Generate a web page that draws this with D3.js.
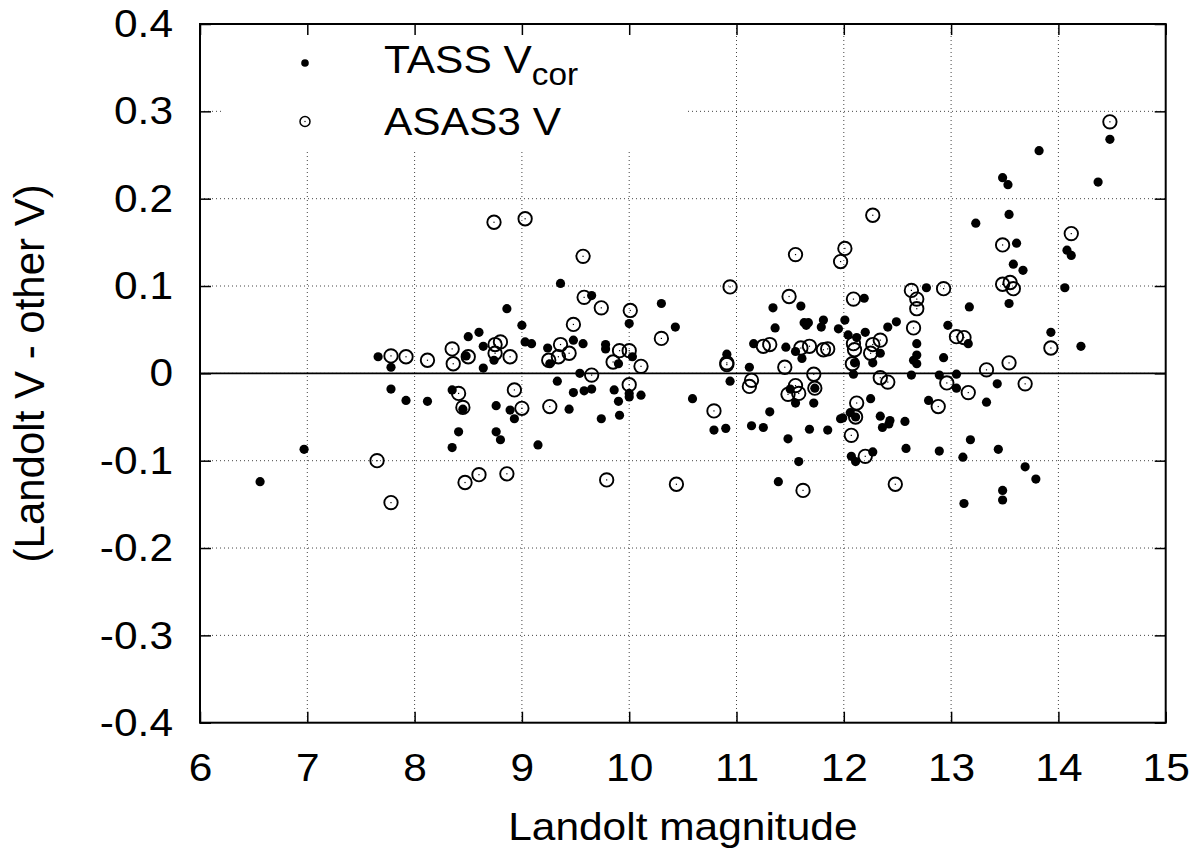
<!DOCTYPE html>
<html>
<head>
<meta charset="utf-8">
<script src="https://cdn.jsdelivr.net/npm/d3@7"></script>
<style>
  html, body { margin: 0; padding: 0; background: #fff; }
  svg { display: block; }
  text { font-family: "Liberation Sans", Arial, Helvetica, sans-serif; fill: #000; }
</style>
</head>
<body>
<svg id="chart" width="1204" height="854"></svg>
<script>
// ---- data ----
const xTicks = [6, 7, 8, 9, 10, 11, 12, 13, 14, 15];
const yTicks = [-0.4, -0.3, -0.2, -0.1, 0, 0.1, 0.2, 0.3, 0.4];
const yTickLabels = ["-0.4", "-0.3", "-0.2", "-0.1", "0", "0.1", "0.2", "0.3", "0.4"];
const seriesNames = ["TASS V", "ASAS3 V"];

// TASS V_cor : [Landolt magnitude, Landolt V - TASS V]
const tassX = [6.56,6.97,7.66,7.78,7.78,7.92,8.12,8.35,8.48,8.64,8.64,8.74,8.76,8.89,8.93,9.03,8.45,8.41,8.35,8.76,
  8.80,8.86,9.00,8.50,8.60,9.09,9.36,9.65,10.00,10.30,10.43,11.34,11.60,11.36,11.63,11.67,11.65,11.81,11.79,11.95,
  9.24,9.48,9.57,9.78,9.26,9.78,10.03,9.90,9.54,9.33,9.44,9.48,9.58,9.65,9.86,9.90,9.91,9.74,10.00,10.00,
  10.11,9.15,10.59,10.79,10.90,10.94,10.91,11.12,11.14,11.25,11.31,11.39,11.48,11.58,11.50,11.55,11.73,11.72,11.68,11.85,
  11.97,11.16,11.46,11.55,11.61,14.48,13.82,13.48,13.53,14.37,13.54,13.23,14.08,14.12,13.61,13.58,13.67,13.54,14.06,13.17,
  12.77,12.19,12.01,12.04,12.12,12.20,12.41,12.49,12.97,13.93,14.21,12.68,13.16,12.10,12.34,12.27,12.68,12.65,12.68,12.93,
  12.09,12.63,12.89,13.05,13.05,13.43,13.33,12.25,12.79,12.06,11.99,12.11,12.34,12.43,12.42,12.36,12.57,12.58,12.89,13.18,
  13.44,13.11,12.07,12.11,12.27,13.69,13.79,13.48,13.48,13.12];
const tassY = [-0.124,-0.087,0.019,0.007,-0.018,-0.031,-0.032,-0.019,0.020,0.031,0.006,0.015,-0.037,-0.042,-0.052,0.036,-0.041,-0.067,-0.085,-0.067,
  -0.076,0.074,0.055,0.042,0.047,0.034,0.103,0.089,0.057,0.080,0.053,0.075,0.077,0.052,0.058,0.058,0.055,0.061,0.053,0.051,
  0.029,0.038,0.034,0.033,0.011,0.028,0.019,0.011,0.000,-0.009,-0.041,-0.022,-0.020,-0.018,-0.019,-0.032,-0.048,-0.052,-0.023,-0.027,
  -0.025,-0.082,-0.029,-0.065,-0.063,-0.009,0.022,0.007,-0.060,-0.062,-0.044,-0.124,-0.075,-0.101,-0.018,-0.034,-0.017,-0.034,-0.064,-0.065,
  -0.052,0.034,0.030,0.025,0.017,0.268,0.255,0.224,0.216,0.219,0.182,0.172,0.141,0.135,0.149,0.125,0.118,0.080,0.098,0.076,
  0.098,0.086,0.061,0.044,0.041,0.047,0.053,0.059,0.055,0.047,0.031,0.034,0.034,0.012,0.023,0.012,0.021,0.015,0.011,0.018,
  -0.001,-0.002,-0.002,-0.001,-0.017,-0.012,-0.033,-0.029,-0.031,-0.045,-0.051,-0.050,-0.049,-0.054,-0.058,-0.062,-0.055,-0.086,-0.089,-0.076,
  -0.087,-0.096,-0.095,-0.101,-0.090,-0.107,-0.121,-0.134,-0.145,-0.149];

// ASAS3 V : [Landolt magnitude, Landolt V - ASAS3 V]
const asasX = [7.65,7.78,7.78,7.92,8.12,8.35,8.36,8.50,8.75,8.80,8.75,8.89,8.41,8.45,8.93,9.00,8.47,8.60,8.86,8.74,
  9.03,9.57,9.58,9.74,10.01,9.48,10.30,10.94,11.55,11.49,9.36,9.25,9.34,9.44,9.91,10.00,9.85,10.11,9.65,10.00,
  9.26,9.79,10.44,10.79,10.91,10.91,11.14,11.12,11.62,11.45,11.72,11.55,11.48,11.58,11.73,11.25,11.31,11.60,11.68,11.81,
  11.85,12.01,11.97,14.48,12.27,14.12,13.48,13.48,13.55,13.58,12.93,12.63,12.68,12.68,12.09,12.65,13.05,13.12,13.93,12.09,
  12.27,12.34,12.10,12.25,12.08,13.54,13.33,12.34,12.41,12.96,13.16,13.69,12.12,12.88,12.11,12.07,12.20,12.48];
const asasY = [-0.100,-0.148,0.020,0.019,0.015,0.028,0.011,0.019,0.033,0.036,0.023,0.019,-0.023,-0.039,-0.019,-0.040,-0.125,-0.116,-0.115,0.173,
  0.177,0.134,0.087,0.075,0.072,0.056,0.040,0.099,0.136,0.088,0.033,0.015,0.019,0.023,0.026,0.026,0.013,0.008,-0.002,-0.013,
  -0.038,-0.122,-0.127,-0.043,0.012,0.010,-0.008,-0.015,-0.134,0.007,-0.001,-0.014,-0.024,-0.023,-0.017,0.031,0.033,0.029,0.031,0.027,
  0.028,0.143,0.128,0.288,0.181,0.160,0.147,0.102,0.104,0.097,0.097,0.095,0.085,0.074,0.085,0.052,0.042,0.041,0.029,0.034,
  0.033,0.038,0.027,0.023,0.011,0.012,0.004,-0.005,-0.010,-0.011,-0.022,-0.012,-0.034,-0.038,-0.050,-0.071,-0.095,-0.127];

// ---- layout ----
const svg = d3.select("#chart");
const L = 200, R = 1165.7, T = 24, B = 722.7;
const x = d3.scaleLinear().domain([6, 15]).range([L, R]);
const y = d3.scaleLinear().domain([-0.4, 0.4]).range([B, T]);
const FS = 39.5;       // glyph height matching
const SX = 1.075;      // horizontal widening of glyphs seen in the reference

function widen(sel) {
  sel.each(function () {
    const t = d3.select(this);
    const ax0 = +(t.attr("x") || 0);
    t.attr("transform", `translate(${ax0},0) scale(${SX},1) translate(${-ax0},0)`);
  });
}

// grid
const grid = svg.append("g");
grid.selectAll("line.gx").data(xTicks.slice(1, -1)).enter().append("line")
  .attr("x1", d => x(d)).attr("x2", d => x(d)).attr("y1", T).attr("y2", B)
  .attr("stroke", "#444").attr("stroke-width", 1).attr("stroke-dasharray", "1,3");
grid.selectAll("line.gy").data(yTicks.slice(1, -1)).enter().append("line")
  .attr("x1", L).attr("x2", R).attr("y1", d => y(d)).attr("y2", d => y(d))
  .attr("stroke", "#444").attr("stroke-width", 1).attr("stroke-dasharray", "1,3");

// legend background (opaque)
svg.append("rect").attr("x", 222).attr("y", T + 1).attr("width", 686 - 222).attr("height", 152 - T - 1)
  .attr("fill", "#fff");

// zero line
svg.append("line").attr("x1", L).attr("x2", R).attr("y1", y(0)).attr("y2", y(0))
  .attr("stroke", "#000").attr("stroke-width", 1.6);

// axes
const tickLen = 11;
const ax = svg.append("g").attr("transform", `translate(0,${B})`)
  .call(d3.axisBottom(x).tickValues(xTicks).tickSizeInner(-tickLen).tickSizeOuter(0).tickPadding(tickLen + 19).tickFormat(d3.format("d")));
const axTop = svg.append("g").attr("transform", `translate(0,${T})`)
  .call(d3.axisTop(x).tickValues(xTicks).tickSizeInner(-tickLen).tickSizeOuter(0).tickFormat(""));
const ay = svg.append("g").attr("transform", `translate(${L},0)`)
  .call(d3.axisLeft(y).tickValues(yTicks).tickSizeInner(-tickLen).tickSizeOuter(0).tickPadding(tickLen + 16)
    .tickFormat((d, i) => yTickLabels[i]));
const ayR = svg.append("g").attr("transform", `translate(${R},0)`)
  .call(d3.axisRight(y).tickValues(yTicks).tickSizeInner(-tickLen).tickSizeOuter(0).tickFormat(""));
[ax, axTop, ay, ayR].forEach(g => {
  g.select(".domain").remove();
  g.selectAll(".tick line").attr("stroke", "#000").attr("stroke-width", 1.5);
  g.selectAll(".tick text").attr("font-size", FS).attr("font-family", "'Liberation Sans', Arial, sans-serif").attr("fill", "#000");
});
ax.selectAll(".tick text").attr("dy", "0.71em");
widen(ax.selectAll(".tick text"));
widen(ay.selectAll(".tick text"));

// frame
svg.append("rect").attr("x", L).attr("y", T).attr("width", R - L).attr("height", B - T)
  .attr("fill", "none").attr("stroke", "#000").attr("stroke-width", 2);

// axis titles
const xt = svg.append("text").attr("x", (L + R) / 2).attr("y", 840).attr("text-anchor", "middle")
  .attr("font-size", FS).text("Landolt magnitude");
widen(xt);
svg.append("text").attr("transform", `translate(44,${(T + B) / 2}) rotate(-90)`).attr("text-anchor", "middle")
  .attr("font-size", 42).text("(Landolt V - other V)");

// points
const tass = tassX.map((v, i) => ({x: v, y: tassY[i]}));
const asas = asasX.map((v, i) => ({x: v, y: asasY[i]}));

const pts = svg.append("g");
pts.selectAll("circle.t").data(tass).enter().append("circle")
  .attr("cx", d => x(d.x)).attr("cy", d => y(d.y)).attr("r", 4.6).attr("fill", "#000");
const ag = pts.selectAll("g.a").data(asas).enter().append("g");
ag.append("circle").attr("cx", d => x(d.x)).attr("cy", d => y(d.y)).attr("r", 6.7)
  .attr("fill", "none").attr("stroke", "#000").attr("stroke-width", 1.9);
ag.append("rect").attr("x", d => x(d.x) - 0.6).attr("y", d => y(d.y) - 0.6).attr("width", 1.2).attr("height", 1.2).attr("fill", "#000");

// legend
svg.append("circle").attr("cx", 305).attr("cy", 63).attr("r", 3.8).attr("fill", "#000");
const t1 = svg.append("text").attr("x", 384).attr("y", 73).attr("font-size", FS);
t1.append("tspan").text(seriesNames[0]);
t1.append("tspan").attr("font-size", 31).attr("dy", 12).text("cor");
widen(t1);
svg.append("circle").attr("cx", 305).attr("cy", 121.5).attr("r", 5).attr("fill", "none").attr("stroke", "#000").attr("stroke-width", 1.5);
svg.append("rect").attr("x", 304.4).attr("y", 120.9).attr("width", 1.2).attr("height", 1.2).attr("fill", "#000");
const t2 = svg.append("text").attr("x", 384).attr("y", 135).attr("font-size", FS).text(seriesNames[1]);
widen(t2);
</script>
</body>
</html>
